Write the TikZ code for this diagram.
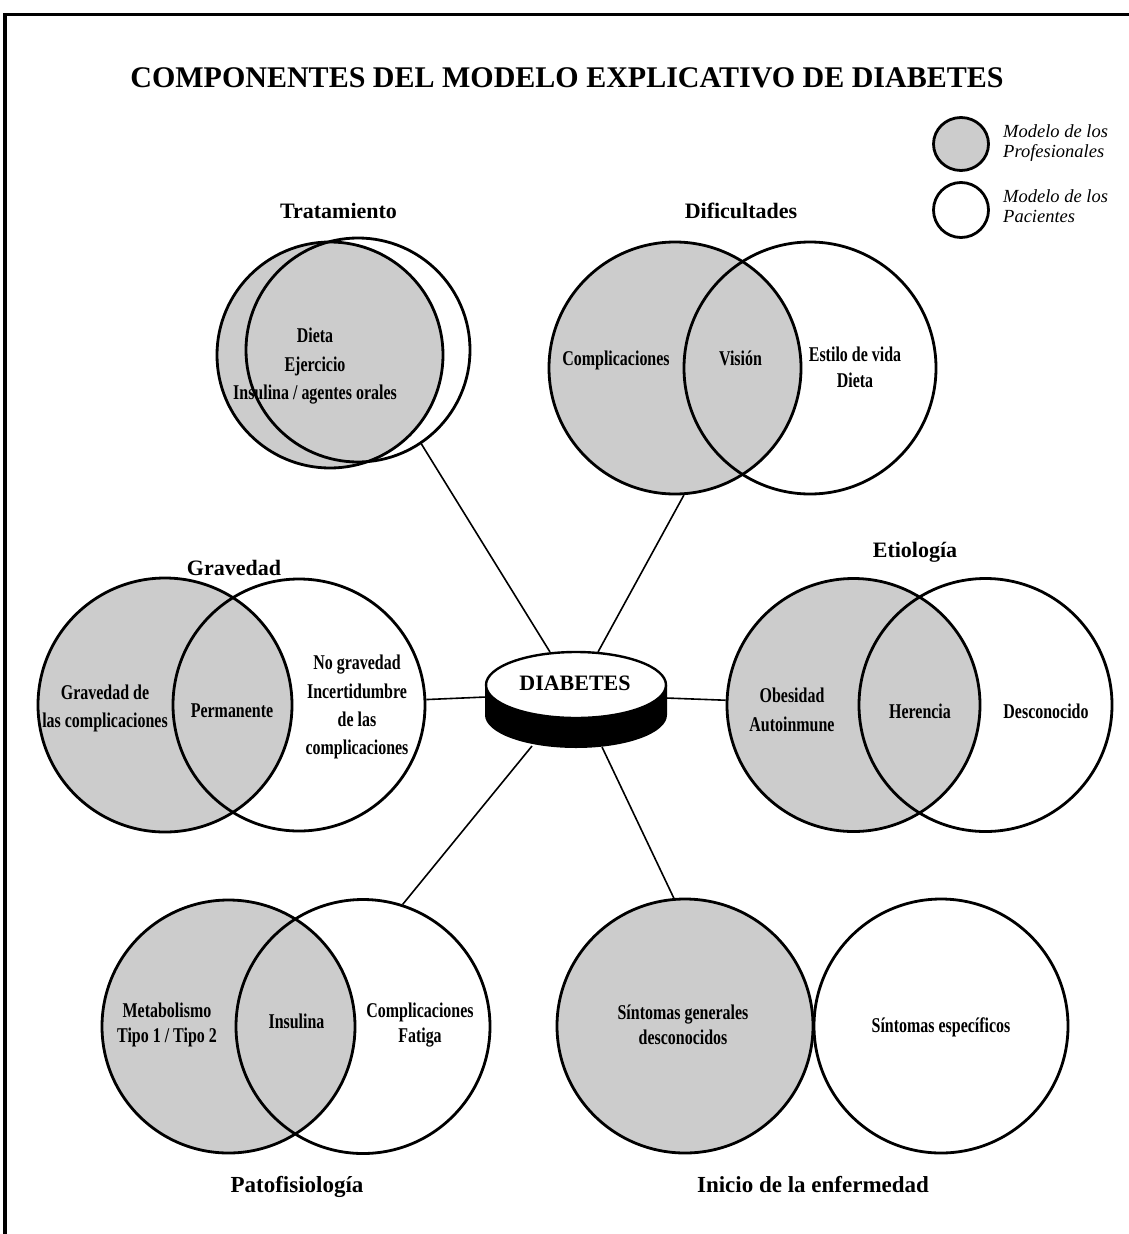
\documentclass[tikz,border=0pt]{standalone}
\usepackage{fontspec}
\setmainfont{Liberation Serif}
\newfontfamily\cnd[FakeStretch=0.76]{Liberation Serif}
\usetikzlibrary{shapes.geometric}
\definecolor{venngray}{RGB}{204,204,204}
\begin{document}
\begin{tikzpicture}[x=1pt,y=-1pt,
  pro/.style={ellipse, draw, line width=2.8pt, fill=venngray, inner sep=0pt},
  pac/.style={ellipse, draw, line width=2.8pt, inner sep=0pt},
  sz/.style 2 args={minimum width=#1pt, minimum height=#2pt},
  txt/.style={align=center, inner sep=0pt, anchor=north,
    font=\cnd\bfseries\fontsize{21}{#1}\selectfont, execute at begin node={\rule{0pt}{15pt}}},
  txt/.default=27.5,
  head/.style={inner sep=0pt, anchor=base, font=\bfseries\fontsize{#1}{26}\selectfont},
  head/.default=22,
  leg/.style={align=left, inner sep=0pt, anchor=north west,
    font=\itshape\fontsize{18.5}{20}\selectfont, execute at begin node=\strut},
  link/.style={line width=1.6pt}]

\useasboundingbox (0,0) rectangle (1128,1234);

% frame
\draw[line width=3.5pt] (5,1240) -- (5,14.5) -- (1140,14.5);

% title
\node[inner sep=0pt, anchor=base, font=\bfseries\fontsize{30}{34}\selectfont] (title) at (567,87)
  {COMPONENTES DEL MODELO EXPLICATIVO DE DIABETES};

% legend
\node[pro, sz={55}{53}] (legG) at (961,144) {};
\node[pac, sz={55}{55}] (legW) at (961,210) {};
\node[leg] (legGt) at (1003,124) {Modelo de los\\Profesionales};
\node[leg] (legWt) at (1003,189) {Modelo de los\\Pacientes};

% central disk
\fill (485,685) -- (485,715) arc[start angle=180, end angle=360, x radius=91pt, y radius=33pt]
  -- (667,685) -- cycle;
\draw[fill=white, line width=2.4pt] (576,685) ellipse[x radius=90pt, y radius=33pt];
\node[inner sep=0pt, anchor=base, font=\bfseries\fontsize{22}{26}\selectfont] (diab) at (575,690) {DIABETES};
\coordinate (dTL) at (550,652);
\coordinate (dTR) at (598,652);
\coordinate (dL) at (486,697);
\coordinate (dR) at (666,698);
\coordinate (dBL) at (532,746);
\coordinate (dBR) at (602,747);

% Tratamiento
\node[pro, sz={226}{226}] (tratG) at (330,355) {};
\node[pac, sz={224}{224}] (tratW) at (358,350) {};
\node[head] (tratH) at (338.5,218) {Tratamiento};
\node[txt=28.5] (tratT) at (315,328) {Dieta\\Ejercicio\\Insulina / agentes orales};

% Dificultades
\node[pro, sz={252}{252}] (difG) at (675,368) {};
\node[pac, sz={252}{252}] (difW) at (810,368) {};
\node[head] (difH) at (741,218) {Dificultades};
\node[txt] (difA) at (616,350) {Complicaciones};
\node[txt] (difB) at (740.5,350) {Visión};
\node[txt=26] (difC) at (855,347) {Estilo de vida\\Dieta};

% Gravedad
\node[pro, sz={254}{254}] (gravG) at (165,705) {};
\node[pac, sz={252}{252}] (gravW) at (299,705) {};
\node[head] (gravH) at (234,575) {Gravedad};
\node[txt] (gravA) at (105,685) {Gravedad de\\las complicaciones};
\node[txt] (gravB) at (232,702) {Permanente};
\node[txt=28.3] (gravC) at (357,655) {No gravedad\\Incertidumbre\\de las\\complicaciones};

% Etiologia
\node[pro, sz={253}{253}] (etiG) at (853.5,705) {};
\node[pac, sz={253}{253}] (etiW) at (985.5,705) {};
\node[head] (etiH) at (915,557) {Etiología};
\node[txt=29] (etiA) at (792,688) {Obesidad\\Autoinmune};
\node[txt] (etiB) at (920,703) {Herencia};
\node[txt] (etiC) at (1046,703) {Desconocido};

% Patofisiologia
\node[pro, sz={253}{253}] (patG) at (228.5,1026.5) {};
\node[pac, sz={254}{254}] (patW) at (363,1026.5) {};
\node[head=23] (patH) at (297,1192) {Patofisiología};
\node[txt=25] (patA) at (167,1003) {Metabolismo\\Tipo 1 / Tipo 2};
\node[txt] (patB) at (296.5,1013) {Insulina};
\node[txt=25] (patC) at (420,1003) {Complicaciones\\Fatiga};

% Inicio de la enfermedad
\node[pro, sz={256}{254}] (iniG) at (685,1026) {};
\node[pac, sz={254}{254}] (iniW) at (941,1026) {};
\node[head=23] (iniH) at (813,1192) {Inicio de la enfermedad};
\node[txt=25] (iniA) at (683,1005) {Síntomas generales\\desconocidos};
\node[txt] (iniB) at (941,1017) {Síntomas específicos};

% spokes
\draw[link] (dTL) -- (tratW.-56);
\draw[link] (dTR) -- (difG.-86);
\draw[link] (dL) -- (gravW);
\draw[link] (dR) -- (etiG);
\draw[link] (dBL) -- (patW.72);
\draw[link] (dBR) -- (iniG.95);

\end{tikzpicture}
\end{document}
